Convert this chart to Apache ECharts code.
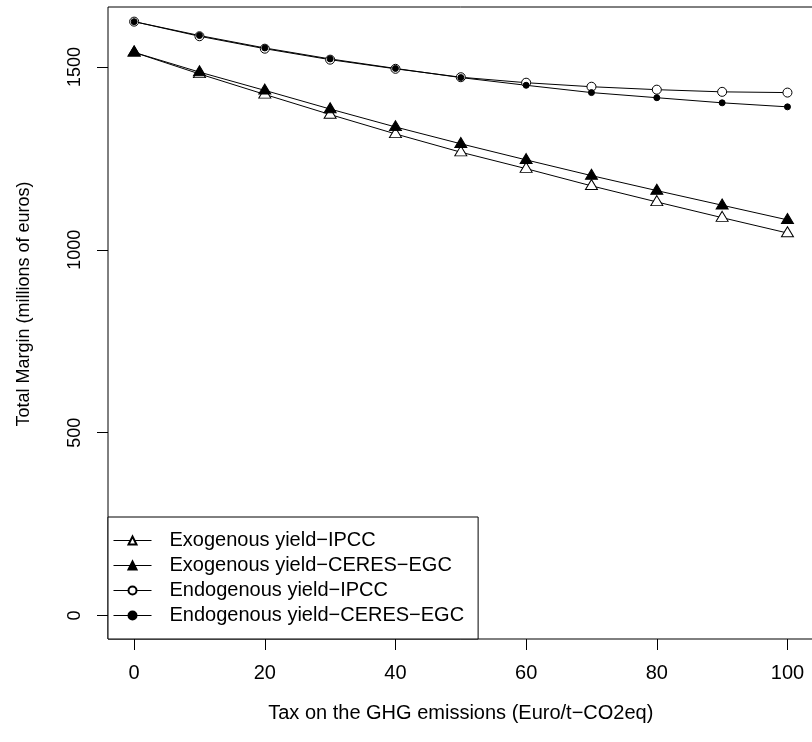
<!DOCTYPE html>
<html><head><meta charset="utf-8">
<script src="https://cdn.jsdelivr.net/npm/echarts@6/dist/echarts.min.js"></script>
<style>html,body{margin:0;padding:0;background:#fff}#c{width:812px;height:742px}</style>
</head><body><div id="c"></div>
<script>
const taxLevels = [0, 10, 20, 30, 40, 50, 60, 70, 80, 90, 100];
const exoIPCC   = [1540, 1481, 1425, 1370, 1317, 1267, 1222, 1175, 1131, 1088, 1046];
const exoCERES  = [1540, 1486, 1436, 1385, 1336, 1290, 1246, 1203, 1162, 1122, 1082];
const endoIPCC  = [1624, 1584, 1550, 1520, 1495, 1472, 1457, 1446, 1438, 1432, 1430];
const endoCERES = [1624, 1586, 1552, 1522, 1496, 1471, 1450, 1430, 1416, 1402, 1391];
const xTicks = [0, 20, 40, 60, 80, 100];
const yTicks = [0, 500, 1000, 1500];
const seriesNames = [
  'Exogenous yield\u2212IPCC',
  'Exogenous yield\u2212CERES\u2212EGC',
  'Endogenous yield\u2212IPCC',
  'Endogenous yield\u2212CERES\u2212EGC'
];
const xTitle = 'Tax on the GHG emissions (Euro/t\u2212CO2eq)';
const yTitle = 'Total Margin (millions of euros)';

const FONT = '"Liberation Sans", Arial, Helvetica, sans-serif';
const pairs = arr => taxLevels.map((x, i) => [x, arr[i]]);

function lineSeries(name, values, symbol, size, offset, fill) {
  return {
    name, type: 'line', data: pairs(values),
    symbol, symbolSize: size, symbolOffset: offset, showSymbol: true,
    lineStyle: { color: '#000', width: 1 },
    itemStyle: { color: fill, borderColor: '#000', borderWidth: 1 },
    emphasis: { disabled: true }, silent: true, animation: false
  };
}

const chart = echarts.init(document.getElementById('c'), null, { renderer: 'canvas' });
chart.setOption({
  backgroundColor: '#fff',
  animation: false,
  grid: { left: 108, top: 7, right: -1.6, bottom: 103, show: true, borderColor: '#000', borderWidth: 1, outerBoundsMode: 'none', containLabel: false },
  xAxis: {
    type: 'value', min: -4, max: 104,
    axisLine: { show: false, onZero: false },
    axisTick: { show: true, inside: false, length: 11, customValues: xTicks, lineStyle: { color: '#000', width: 1 } },
    axisLabel: { customValues: xTicks, color: '#000', fontSize: 20, fontFamily: FONT, margin: 24, formatter: v => String(v) },
    splitLine: { show: false },
    name: xTitle, nameLocation: 'middle', nameGap: 64,
    nameTextStyle: { color: '#000', fontSize: 20, fontFamily: FONT }
  },
  yAxis: {
    type: 'value', min: -64, max: 1664,
    axisLine: { show: false, onZero: false },
    axisTick: { show: true, inside: false, length: 11, customValues: yTicks, lineStyle: { color: '#000', width: 1 } },
    axisLabel: { customValues: yTicks, rotate: 90, color: '#000', fontSize: 18, fontFamily: FONT, margin: 24, formatter: v => String(v) },
    splitLine: { show: false },
    name: yTitle, nameLocation: 'middle', nameRotate: 90, nameGap: 75,
    nameTextStyle: { color: '#000', fontSize: 18, fontFamily: FONT, padding: [0, 0, 0, 38] }
  },
  legend: {
    orient: 'vertical', left: 108, top: 517,
    itemWidth: 38, itemHeight: 10, itemGap: 5,
    padding: [13.5, 14, 13.5, 5],
    borderColor: '#000', borderWidth: 1, backgroundColor: '#fff',
    selectedMode: false,
    lineStyle: { width: 1 },
    textStyle: { color: '#000', fontSize: 20, fontFamily: FONT, lineHeight: 20, padding: [0, 0, 0, 13] },
    data: seriesNames
  },
  series: [
    lineSeries(seriesNames[0], exoIPCC, 'triangle', [12, 10], [0, -1.3], '#fff'),
    lineSeries(seriesNames[1], exoCERES, 'triangle', [12, 10], [0, -1.3], '#000'),
    lineSeries(seriesNames[2], endoIPCC, 'circle', 9, [0, 0], '#fff'),
    lineSeries(seriesNames[3], endoCERES, 'circle', 6, [0, 0], '#000')
  ]
});
</script></body></html>
